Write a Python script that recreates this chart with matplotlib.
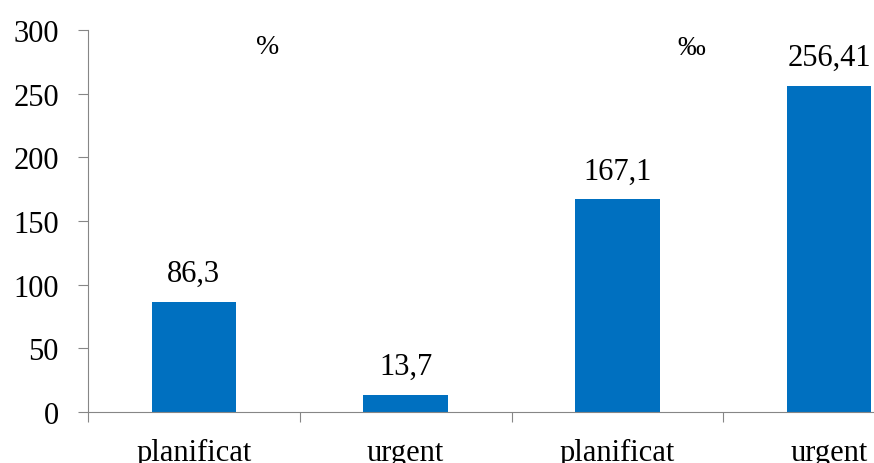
import matplotlib.pyplot as plt

plt.rcParams['font.family'] = ['Liberation Serif', 'DejaVu Serif']

categories = ["planificat", "urgent", "planificat", "urgent"]
values = [86.3, 13.7, 167.1, 256.41]
value_labels = ["86,3", "13,7", "167,1", "256,41"]
unit_marks = ["%", "‰"]

fig = plt.figure(figsize=(8.74, 4.64), dpi=100)
ax = fig.add_axes([88 / 874, 51 / 464, 847 / 874, 382 / 464])

x = range(len(categories))
bars = ax.bar(x, values, width=0.4, color="#0070C0", zorder=2)

for b, lab in zip(bars, value_labels):
    ax.annotate(lab, (b.get_x() + b.get_width() / 2, b.get_height()),
                xytext=(0, 10), textcoords="offset points",
                ha="center", va="bottom", fontsize=22)

# unit markers above each pair of bars
ax.text(0.35, 287, unit_marks[0], ha="center", va="center", fontsize=20)
ax.text(2.35, 286, unit_marks[1], ha="center", va="center", fontsize=20)

ax.set_xlim(-0.5, 3.5)
ax.set_ylim(0, 300)
ax.set_yticks(range(0, 301, 50))
ax.set_xticks([-0.5, 0.5, 1.5, 2.5, 3.5], minor=False)
ax.set_xticklabels([])
ax.set_xticks(list(x), minor=True)
ax.set_xticklabels(categories, minor=True)
ax.tick_params(axis="x", which="minor", length=0, pad=19, labelsize=22)
ax.tick_params(axis="x", which="major", length=7, color="#868686", direction="out")
ax.tick_params(axis="y", length=7, color="#868686", pad=14, labelsize=22)

for s in ["top", "right"]:
    ax.spines[s].set_visible(False)
for s in ["left", "bottom"]:
    ax.spines[s].set_color("#868686")

fig.savefig("out.png", dpi=100)
